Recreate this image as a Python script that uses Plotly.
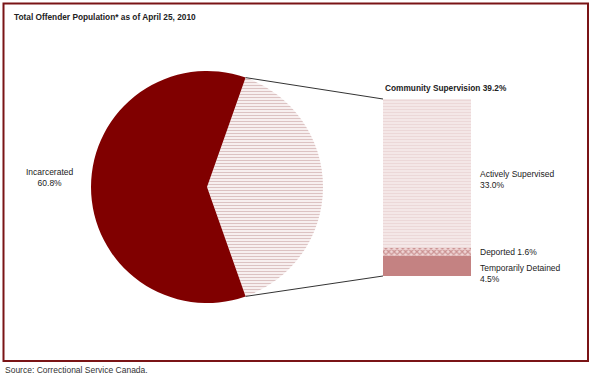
import math
import plotly.graph_objects as go

W, H = 593, 379

# ---- data ----
pie_labels = ["Community Supervision", "Incarcerated"]
pie_values = [39.2, 60.8]
bar_labels = ["Temporarily Detained", "Deported", "Actively Supervised"]
bar_values = [4.5, 1.6, 33.0]
title_text = "Total Offender Population* as of April 25, 2010"
source_text = "Source: Correctional Service Canada."

FONT = "Liberation Sans, Arial, sans-serif"
DARK = "#800000"

def px(x):
    return x / W

def py(y):
    return 1 - y / H

# pie geometry (pixels)
cx, cy, r = 207, 187, 116
# bar geometry (pixels)
bx0, bx1, by_top, by_bot = 383, 471, 99, 276

half = pie_values[0] / sum(pie_values) * 180.0
rotation = 90 - half

fig = go.Figure()
fig.add_trace(go.Pie(
    labels=pie_labels, values=pie_values, sort=False, direction="clockwise",
    rotation=rotation, textinfo="none", hoverinfo="label+percent",
    marker=dict(colors=["#f6eaea", DARK],
                pattern=dict(shape=["-", ""], fgcolor="#dcc2c2", bgcolor="#fbf4f4",
                             size=3, solidity=0.4, fillmode="replace"),
                line=dict(width=0)),
    domain=dict(x=[px(cx - r), px(cx + r)], y=[py(cy + r), py(cy - r)]),
    showlegend=False,
))

bar_fill = ["#c48282", "#e3b5b5", "#f3e2e2"]
bar_pat = ["", "x", "-"]
bar_fg = ["#c48282", "#c99090", "#ecd8d8"]
for lab, val, c, p, fg in zip(bar_labels, bar_values, bar_fill, bar_pat, bar_fg):
    fig.add_trace(go.Bar(
        x=[0], y=[val], name=lab, xaxis="x", yaxis="y",
        marker=dict(color=c, line=dict(width=0),
                    pattern=dict(shape=p, fgcolor=fg, bgcolor="#f7eded" if p == "-" else "#f0d6d6",
                                 size=3 if p == "-" else 4, solidity=0.5, fillmode="replace")),
        width=1, showlegend=False,
    ))

total_bar = sum(bar_values)
fig.update_layout(
    width=W, height=H, margin=dict(l=0, r=0, t=0, b=0),
    paper_bgcolor="white", plot_bgcolor="rgba(0,0,0,0)",
    barmode="stack", bargap=0,
    xaxis=dict(domain=[px(bx0), px(bx1)], range=[-0.5, 0.5], visible=False, fixedrange=True),
    yaxis=dict(domain=[py(by_bot), py(by_top)], range=[0, total_bar], visible=False, fixedrange=True),
    font=dict(family=FONT, size=8.5, color="#222"),
)

# pie boundary points
a = math.radians(half)
tx, ty = cx + r * math.cos(a), cy - r * math.sin(a)
bx_, by_ = cx + r * math.cos(a), cy + r * math.sin(a)

shapes = [
    dict(type="rect", xref="paper", yref="paper", x0=px(3.5), x1=px(588), y0=py(361), y1=py(3.5),
         line=dict(color="#7a1416", width=2)),
    dict(type="line", xref="paper", yref="paper", x0=px(tx), y0=py(ty), x1=px(bx0), y1=py(by_top),
         line=dict(color="#333", width=1)),
    dict(type="line", xref="paper", yref="paper", x0=px(bx_), y0=py(by_), x1=px(bx0), y1=py(by_bot),
         line=dict(color="#333", width=1)),
]
fig.update_layout(shapes=shapes)

def ann(text, x, y, bold=False, xanchor="left", align="left", size=8.5, color="#222"):
    if bold:
        text = "<b>" + text + "</b>"
    fig.add_annotation(text=text, x=px(x), y=py(y), xref="paper", yref="paper",
                       xanchor=xanchor, yanchor="middle", align=align, showarrow=False,
                       font=dict(family=FONT, size=size, color=color))

ann(title_text, 12, 17, bold=True, size=8.3)
ann(f"{pie_labels[1]}<br>{pie_values[1]:.1f}%", 50, 177, xanchor="center", align="center")
ann(f"{pie_labels[0]} {pie_values[0]:.1f}%", 383, 88, bold=True, size=8.3)
ann(f"{bar_labels[2]}<br>{bar_values[2]:.1f}%", 478, 179)
ann(f"{bar_labels[1]} {bar_values[1]:.1f}%", 478, 252)
ann(f"{bar_labels[0]}<br>{bar_values[0]:.1f}%", 478, 273)
ann(source_text, 3, 370, size=8.5, color="#333")

fig.write_html("out.html", config={"displayModeBar": False},
               post_script="document.body.style.margin='0';document.body.style.overflow='hidden';")
